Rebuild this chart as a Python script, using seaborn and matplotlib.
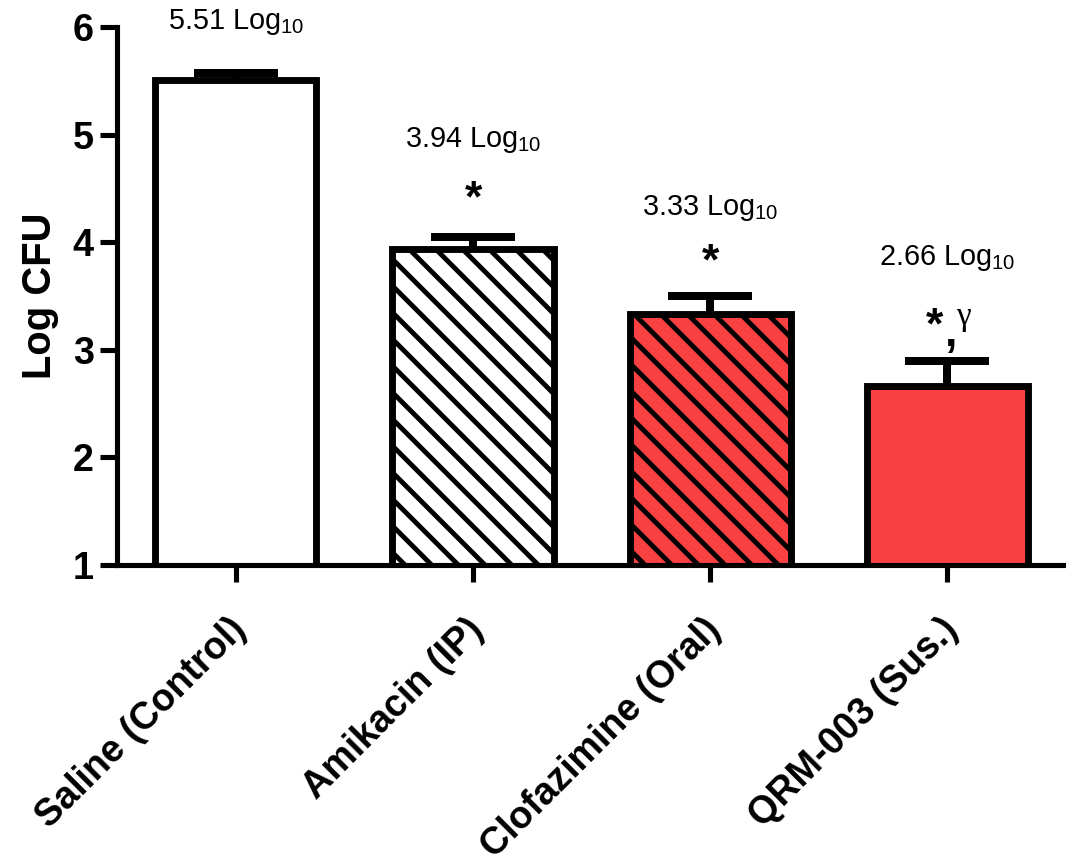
import numpy as np
import matplotlib
matplotlib.use("Agg")
import matplotlib.pyplot as plt
import matplotlib.transforms as mtransforms
import seaborn as sns

# -- data
groups = ["Saline (Control)", "Amikacin (IP)", "Clofazimine (Oral)", "QRM-003 (Sus.)"]
means = [5.51, 3.94, 3.33, 2.66]
sems = [0.06, 0.11, 0.17, 0.24]
face_colors = ["white", "white", "#F94144", "#F94144"]
hatches = ["", "\\\\", "\\\\", ""]
value_labels = ["5.51", "3.94", "3.33", "2.66"]
label_y = [6.05, 4.95, 4.32, 3.85]
star_y = [None, 4.29, 3.70, 3.11]

sns.set_style("ticks")
plt.rcParams["font.family"] = ["Liberation Sans", "DejaVu Sans"]
plt.rcParams["mathtext.fontset"] = "custom"
plt.rcParams["mathtext.rm"] = "Liberation Sans"
plt.rcParams["mathtext.it"] = "Liberation Sans:italic"
plt.rcParams["mathtext.bf"] = "Liberation Sans:bold"
plt.rcParams["hatch.linewidth"] = 2.2
for k in ["text.color", "axes.labelcolor", "xtick.color", "ytick.color", "axes.edgecolor"]:
    plt.rcParams[k] = "black"

DPI = 160
fig = plt.figure(figsize=(1066 / DPI, 863 / DPI), dpi=DPI)
ax = fig.add_axes([0.110, 0.3453, 0.89, 0.6234])

sns.barplot(x=groups, y=means, hue=groups, palette=face_colors, width=0.68,
            saturation=1, edgecolor="black", linewidth=3.1, legend=False, ax=ax)
for patch, h in zip(ax.patches, hatches):
    patch.set_hatch(h)

x = np.arange(len(groups))
eb = ax.errorbar(x, means, yerr=[np.zeros(len(means)), sems], fmt="none",
                 ecolor="black", elinewidth=3.6, capsize=19, capthick=3.6, zorder=5)
# only the upper cap is drawn in the original
for cl in eb[1]:
    if np.allclose(cl.get_ydata(), means):
        cl.set_visible(False)

ax.set_ylim(1, 6)
ax.set_xlim(-0.5, 3.5)
ax.set_yticks(range(1, 7))
ax.set_ylabel("Log CFU", fontsize=18, fontweight="bold", labelpad=6)
ax.set_xlabel("")

for s in ["top", "right"]:
    ax.spines[s].set_visible(False)
for s in ["left", "bottom"]:
    ax.spines[s].set_linewidth(2.3)
ax.tick_params(axis="both", length=7.6, width=2.3, pad=3)
ax.tick_params(axis="x", pad=19)
for t in ax.get_yticklabels():
    t.set_fontsize(17)
    t.set_fontweight("bold")
ax.set_xticks(x)
ax.set_xticklabels(groups, rotation=45, ha="right", va="center",
                   rotation_mode="anchor", fontsize=17, fontweight="bold")
shift = mtransforms.ScaledTranslation(5 / DPI, 0, fig.dpi_scale_trans)
for t in ax.get_xticklabels():
    t.set_transform(t.get_transform() + shift)

# value annotations
for i, (v, yy) in enumerate(zip(value_labels, label_y)):
    ax.text(i, yy, v + r" Log$_{10}$", ha="center", va="center", fontsize=13)

# significance marks
for i, yy in enumerate(star_y):
    if yy is None:
        continue
    dx = 0.0 if i < 3 else -0.055
    ax.text(i + dx, yy, "*", ha="center", va="baseline", fontsize=20,
            fontweight="bold")
ax.text(3.015, 3.04, ",", ha="center", va="baseline", fontsize=20,
        fontweight="bold")
ax.text(3.068, 3.23, "γ", ha="center", va="baseline", fontsize=15,
        family=["Liberation Serif", "DejaVu Serif"])

fig.savefig("out.png", dpi=DPI)
